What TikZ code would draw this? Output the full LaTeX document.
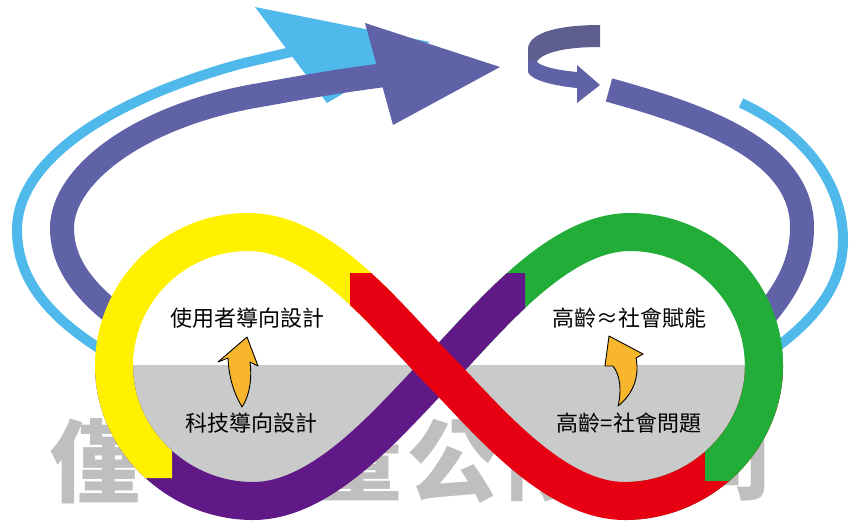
\documentclass[tikz,border=0pt]{standalone}
\usepackage{fontspec}
\newfontfamily\cjk{Noto Sans CJK TC}
\definecolor{yellowS}{HTML}{FFF100}
\definecolor{purpleS}{HTML}{601986}
\definecolor{redS}{HTML}{E60012}
\definecolor{greenS}{HTML}{22AC38}
\definecolor{darkarc}{HTML}{6062A8}
\definecolor{lightarc}{HTML}{4FB9EC}
\definecolor{curlback}{HTML}{5E5E8E}
\definecolor{orangeA}{HTML}{F8B62D}
\definecolor{greyband}{HTML}{C9CACA}
\definecolor{wmgrey}{HTML}{BFBFBF}
\tikzset{
  strip/.style={line width=38pt},
  darkband/.style={darkarc, line width=24pt},
  lightband/.style={lightarc, line width=10pt},
  wm/.style={font=\cjk\bfseries\fontsize{90}{90}\selectfont, text=wmgrey, inner sep=0pt},
  lbl/.style={font=\cjk\fontsize{22}{22}\selectfont, text=black, inner sep=0pt},
  orangearrow/.style={fill=orangeA, draw=black, line width=0.9pt, line join=round},
}
\begin{document}
\begin{tikzpicture}[x=1pt,y=-1pt]
\useasboundingbox (0,0) rectangle (850,523);
\fill[white] (0,0) rectangle (850,523);

% watermark
\node[wm] (wmA) at (95,461) {僅};
\node[wm] (wmB) at (357,461) {量};
\node[wm] (wmC) at (453,461) {公};
\node[wm] (wmD) at (550,461) {限};
\node[wm] (wmE) at (727,461) {司};

% grey band inside the loops
\begin{scope}
\clip (0,365) rectangle (850,523);
\fill[greyband] (439,370) .. controls (385,315) and (322,232) .. (248,232)
  .. controls (174,232) and (114,292) .. (114,366)
  .. controls (114,440) and (178,501) .. (253,501)
  .. controls (325,501) and (392,418) .. (439,370)
  .. controls (486,322) and (556,232) .. (630,232)
  .. controls (704,232) and (764,292) .. (764,366)
  .. controls (764,440) and (700,501) .. (625,501)
  .. controls (553,501) and (486,418) .. (439,370) -- cycle;
\end{scope}

% light blue arcs
\draw[lightband] (105,352) .. controls (50,318) and (17,280) .. (17,230)
  .. controls (17,160) and (110,100) .. (240,64) .. controls (270,57) and (290,52) .. (305,49);
\fill[lightarc] (255,7) -- (430,42) -- (327,103) -- cycle;
\draw[lightband] (741,103) .. controls (800,130) and (843,180) .. (843,240)
  .. controls (843,285) and (815,320) .. (770,352);

% dark arcs
\draw[darkband] (125,322) .. controls (80,290) and (62,260) .. (62,228)
  .. controls (62,175) and (140,115) .. (260,95) .. controls (310,86) and (345,80) .. (385,75);
\fill[darkarc] (365,23) -- (500,67) -- (393,125) -- cycle;
\draw[darkband] (609,90) .. controls (700,115) and (802,150) .. (802,227)
  .. controls (802,265) and (785,295) .. (752,330);

% small curl arrow
\fill[curlback] (600,25) .. controls (560,25) and (530,32) .. (528,48) -- (528,62) -- (536,63)
  .. controls (540,54) and (560,47) .. (600,47) -- cycle;
\fill[darkarc] (528,61) -- (528,72) .. controls (530,80) and (555,86) .. (577,88) -- (577,103)
  -- (600,85) -- (577,65) -- (577,72) .. controls (555,70) and (540,66) .. (536,61) -- cycle;

% infinity strips
\draw[strip, greenS] (439,370) .. controls (486,322) and (556,232) .. (630,232)
  .. controls (704,232) and (764,292) .. (764,366)
  .. controls (764,440) and (700,501) .. (625,501);
\begin{scope}
\clip (0,273) rectangle (525,523);
\draw[strip, purpleS] (114,366) .. controls (114,440) and (178,501) .. (253,501)
  .. controls (325,501) and (392,418) .. (439,370)
  .. controls (486,322) and (556,232) .. (630,232);
\end{scope}
\begin{scope}
\clip (0,0) -- (395,0) -- (395,440) -- (172,440) -- (172,478) -- (0,478) -- cycle;
\draw[strip, yellowS] (439,370) .. controls (385,315) and (322,232) .. (248,232)
  .. controls (174,232) and (114,292) .. (114,366)
  .. controls (114,440) and (178,501) .. (253,501);
\end{scope}
\begin{scope}
\clip (350,273) rectangle (850,523);
\draw[strip, redS] (248,232) .. controls (322,232) and (385,315) .. (439,370)
  .. controls (486,418) and (553,501) .. (625,501)
  .. controls (700,501) and (764,440) .. (764,366);
\end{scope}
\begin{scope}
\clip (705,0) rectangle (850,480);
\draw[strip, greenS] (630,232) .. controls (704,232) and (764,292) .. (764,366)
  .. controls (764,440) and (700,501) .. (625,501);
\end{scope}

% orange arrows
\filldraw[orangearrow] (247,337) -- (258,366) -- (250,362)
  .. controls (252,378) and (250,395) .. (242,407)
  .. controls (235,395) and (229,380) .. (228,358) -- (218,362) -- cycle;
\filldraw[orangearrow] (609,336) -- (643,354) -- (636,358)
  .. controls (640,378) and (632,395) .. (618,406)
  .. controls (622,390) and (620,375) .. (613,366) -- (605,366) -- cycle;

% labels
\node[lbl] (t1) at (247,318) {使用者導向設計};
\node[lbl] (t2) at (251,423) {科技導向設計};
\node[lbl] (t3) at (629,318) {高齡≈社會賦能};
\node[lbl] (t4) at (629,423) {高齡=社會問題};
\end{tikzpicture}
\end{document}
